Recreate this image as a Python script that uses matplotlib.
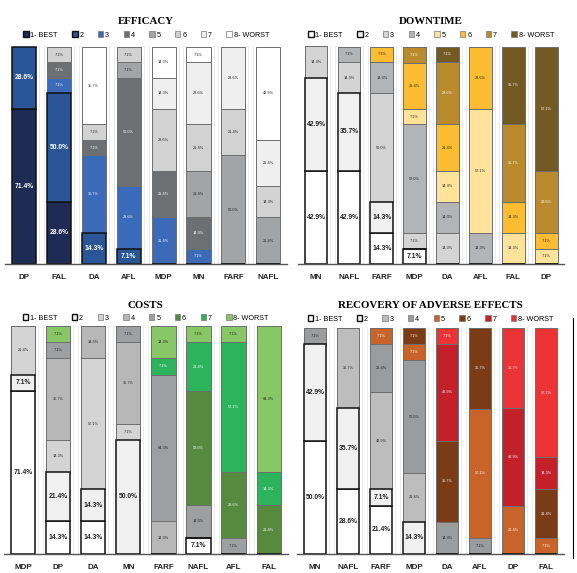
import numpy as np
import matplotlib.pyplot as plt
from matplotlib.patches import Patch
from matplotlib.lines import Line2D

plt.rcParams['font.family'] = ['Liberation Sans', 'DejaVu Sans']

W, H = 577, 573
ranks = ["1- BEST", "2", "3", "4", "5", "6", "7", "8- WORST"]

# percentages per bar, ranks 1..8 (bottom to top)
eff_bars = ["DP", "FAL", "DA", "AFL", "MDP", "MN", "FARF", "NAFL"]
eff_vals = [
    [71.4, 28.6, 0, 0, 0, 0, 0, 0],
    [28.6, 50.0, 7.1, 7.1, 0, 7.1, 0, 0],
    [0, 14.3, 35.7, 7.1, 0, 7.1, 0, 35.7],
    [0, 7.1, 28.6, 50.0, 7.1, 7.1, 0, 0],
    [0, 0, 21.4, 21.4, 0, 28.6, 14.3, 14.3],
    [0, 0, 7.1, 14.3, 21.4, 21.4, 28.6, 7.1],
    [0, 0, 0, 0, 50.0, 21.4, 28.6, 0],
    [0, 0, 0, 0, 21.4, 14.3, 21.4, 42.9],
]
eff_colors = ["#1e2b55", "#2a5597", "#3a6ab8", "#6d7072",
              "#a2a4a6", "#d2d2d2", "#efefef", "#ffffff"]

down_bars = ["MN", "NAFL", "FARF", "MDP", "DA", "AFL", "FAL", "DP"]
down_vals = [
    [42.9, 42.9, 14.3, 0, 0, 0, 0, 0],
    [42.9, 35.7, 14.3, 7.1, 0, 0, 0, 0],
    [14.3, 14.3, 50.0, 14.3, 0, 7.1, 0, 0],
    [7.1, 0, 7.1, 50.0, 7.1, 21.4, 7.1, 0],
    [0, 0, 14.3, 14.3, 14.3, 21.4, 28.6, 7.1],
    [0, 0, 0, 14.3, 57.1, 28.6, 0, 0],
    [0, 0, 0, 0, 14.3, 14.3, 35.7, 35.7],
    [0, 0, 0, 0, 7.1, 7.1, 28.6, 57.1],
]
down_colors = ["#ffffff", "#f0f0f0", "#d4d4d4", "#b2b4b6",
               "#ffe39a", "#fcbd32", "#b98b2c", "#725a22"]

cost_bars = ["MDP", "DP", "DA", "MN", "FARF", "NAFL", "AFL", "FAL"]
cost_vals = [
    [71.4, 7.1, 21.4, 0, 0, 0, 0, 0],
    [14.3, 21.4, 14.3, 35.7, 7.1, 0, 0, 7.1],
    [14.3, 14.3, 57.1, 14.3, 0, 0, 0, 0],
    [0, 50.0, 7.1, 35.7, 7.1, 0, 0, 0],
    [0, 0, 0, 14.3, 64.3, 0, 7.1, 14.3],
    [7.1, 0, 0, 0, 14.3, 50.0, 21.4, 7.1],
    [0, 0, 0, 0, 7.1, 28.6, 57.1, 7.1],
    [0, 0, 0, 0, 0, 21.4, 14.3, 64.3],
]
cost_colors = ["#ffffff", "#f0f0f0", "#d4d4d4", "#b7b7b7",
               "#9d9fa1", "#558a3f", "#2db35b", "#87c766"]

rec_bars = ["MN", "NAFL", "FARF", "MDP", "DA", "AFL", "DP", "FAL"]
rec_vals = [
    [50.0, 42.9, 0, 7.1, 0, 0, 0, 0],
    [28.6, 35.7, 35.7, 0, 0, 0, 0, 0],
    [21.4, 7.1, 42.9, 21.4, 7.1, 0, 0, 0],
    [0, 14.3, 21.4, 50.0, 7.1, 7.1, 0, 0],
    [0, 0, 0, 14.3, 0, 35.7, 42.9, 7.1],
    [0, 0, 0, 7.1, 57.1, 35.7, 0, 0],
    [0, 0, 0, 0, 21.4, 0, 42.9, 35.7],
    [0, 0, 0, 0, 7.1, 21.4, 14.3, 57.1],
]
rec_colors = ["#ffffff", "#f0f0f0", "#bdbdbd", "#9a9c9e",
              "#c8642a", "#7b3b17", "#c4202a", "#ec3335"]


def lum(c):
    r, g, b = [int(c[i:i + 2], 16) / 255 for i in (1, 3, 5)]
    return 0.299 * r + 0.587 * g + 0.114 * b


def panel(fig, box, title, bars, vals, colors, title_y, leg_y):
    # box = (first bar center px, spacing px, top px, baseline px)
    c0, sp, top, base = box
    left = c0 - 0.55 * sp
    width = 8.1 * sp
    ax = fig.add_axes([left / W, (H - base) / H, width / W, (base - top) / H])
    x = np.arange(len(bars))
    vals = np.array(vals)
    bottom = np.zeros(len(bars))
    for r in range(8):
        v = vals[:, r]
        ec = "#111111" if r < 2 else "#6e6e6e"
        lw = 1.1 if r < 2 else 0.7
        ax.bar(x, v, 0.69, bottom=bottom, color=colors[r], edgecolor=ec,
               linewidth=lw, zorder=3 if r >= 2 else 4)
        for i in range(len(bars)):
            if v[i] > 0:
                tc = "white" if lum(colors[r]) < 0.6 else "#222222"
                if r < 2:
                    ax.text(x[i], bottom[i] + v[i] / 2, f"{v[i]:.1f}%", ha="center",
                            va="center", fontsize=4.9, fontweight="bold", color=tc, zorder=5)
                else:
                    ax.text(x[i], bottom[i] + v[i] / 2, f"{v[i]:.1f}%", ha="center",
                            va="center", fontsize=2.8, color=tc, zorder=5)
        bottom += v
    for i in range(len(bars) - 1):
        ax.axvline(i + 0.43, color="#ebebeb", lw=0.7, zorder=1)
        ax.axvline(i + 0.57, color="#ebebeb", lw=0.7, zorder=1)
    ax.set_xlim(-0.55, 7.55)
    ax.set_ylim(0, 100.3)
    ax.set_yticks([])
    ax.set_xticks(x)
    ax.set_xticklabels(bars, fontsize=5.8, fontweight="bold", color="#222222")
    ax.tick_params(axis="x", length=0, pad=7)
    for s in ["top", "left", "right"]:
        ax.spines[s].set_visible(False)
    ax.spines["bottom"].set_color("#555555")
    ax.spines["bottom"].set_linewidth(1.0)
    ax.spines["bottom"].set_zorder(6)

    cx = (left + width / 2) / W
    fig.text(cx, 1 - title_y / H, title, ha="center", va="center",
             family="Liberation Serif", fontweight="bold", fontsize=7.8)
    handles = [Patch(facecolor=colors[r], edgecolor="#111111" if r < 2 else "#777777",
                     linewidth=1.0 if r < 2 else 0.5) for r in range(8)]
    ax.legend(handles, ranks, ncol=8, loc="center", frameon=False,
              bbox_to_anchor=(cx, 1 - leg_y / H), bbox_transform=fig.transFigure,
              fontsize=5.2, handlelength=0.75, handleheight=0.75, handletextpad=0.25,
              columnspacing=2.0, borderpad=0)
    return ax


fig = plt.figure(figsize=(W / 100, H / 100), dpi=100)
panel(fig, (24, 34.9, 46, 264), "EFFICACY", eff_bars, eff_vals, eff_colors, 22, 35)
panel(fig, (316, 32.9, 46, 264), "DOWNTIME", down_bars, down_vals, down_colors, 22, 35)
panel(fig, (23, 35.1, 325, 554), "COSTS", cost_bars, cost_vals, cost_colors, 305, 318)
panel(fig, (315, 33.0, 327, 554), "RECOVERY OF ADVERSE EFFECTS", rec_bars, rec_vals,
      rec_colors, 305, 319)

fig.add_artist(Line2D([573 / W, 573 / W], [1 - 318 / H, 1 - 558 / H],
                      transform=fig.transFigure, color="black", lw=0.8))

plt.savefig("out.png", dpi=100)
